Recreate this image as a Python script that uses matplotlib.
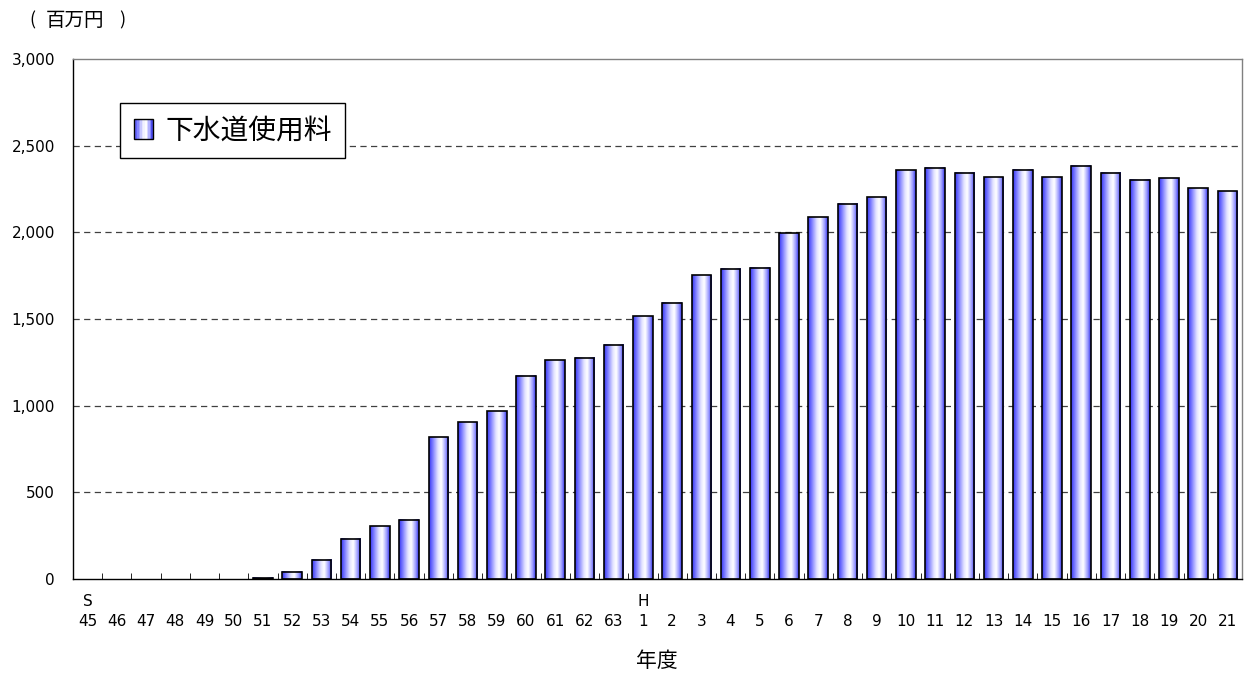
"""Sewer usage fee revenue by fiscal year, bar chart with gradient bars."""

import matplotlib
matplotlib.use("Agg")
import matplotlib.pyplot as plt
import numpy as np
from matplotlib.colors import LinearSegmentedColormap
from matplotlib.legend_handler import HandlerBase
from matplotlib.patches import Patch, Rectangle

plt.rcParams["font.family"] = ["DejaVu Sans", "Noto Sans CJK JP"]
JP = ["Noto Sans CJK JP", "DejaVu Sans"]

# fiscal years: Showa 45-63, Heisei 1-21
years = [str(y) for y in range(45, 64)] + [str(y) for y in range(1, 22)]
era_marks = {0: "S", 19: "H"}
# million yen
fees = [0, 0, 0, 0, 0, 0, 8, 43, 110, 231, 303, 343, 819, 903, 969, 1174,
        1261, 1275, 1350, 1517, 1595, 1751, 1791, 1797, 1995, 2086, 2166,
        2201, 2357, 2374, 2345, 2319, 2360, 2319, 2383, 2345, 2302, 2311,
        2253, 2238]
series_name = "下水道使用料"
unit_label = "百万円"
y_ticks = [0, 500, 1000, 1500, 2000, 2500, 3000]


def _bar_cmap() -> LinearSegmentedColormap:
    return LinearSegmentedColormap.from_list(
        "bar_grad",
        [(0.0, "#3535f0"), (0.15, "#7070ff"), (0.45, "#e4e4ff"),
         (0.62, "#ffffff"), (0.85, "#9a9aff"), (1.0, "#3030e8")],
    )


class GradientHandler(HandlerBase):
    def create_artists(self, legend, orig_handle, xdescent, ydescent, width,
                       height, fontsize, trans):
        side = min(width, height)
        x0 = xdescent + (width - side) / 2
        y0 = -ydescent
        cmap = _bar_cmap()
        n = 12
        arts = []
        for i in range(n):
            arts.append(Rectangle((x0 + side * i / n, y0), side / n, side,
                                  facecolor=cmap((i + 0.5) / n), edgecolor="none",
                                  transform=trans))
        arts.append(Rectangle((x0, y0), side, side, facecolor="none",
                              edgecolor="black", lw=1.0, transform=trans))
        return arts


def main() -> None:
    fig = plt.figure(figsize=(12.44, 6.73), dpi=100)
    ax = fig.add_axes([73 / 1244, 1 - 579 / 673, 1169 / 1244, 520 / 673])

    x = np.arange(len(years))
    vals = np.array(fees, dtype=float)
    width = 0.67
    cmap = _bar_cmap()
    grad = np.linspace(0, 1, 64).reshape(1, -1)

    for yv in y_ticks[1:-1]:
        ax.axhline(yv, color="#404040", lw=0.9, ls=(0, (5, 3.5)), zorder=1)

    shown = vals > 0
    for xi, v in zip(x[shown], vals[shown]):
        ax.imshow(grad, cmap=cmap, aspect="auto", interpolation="bilinear",
                  extent=(xi - width / 2, xi + width / 2, 0, v), zorder=2)
    ax.bar(x[shown], vals[shown], width=width, facecolor="none",
           edgecolor="black", linewidth=1.2, zorder=3)

    ax.set_xlim(-0.5, len(years) - 0.5)
    ax.set_ylim(0, 3000)

    ax.set_yticks(y_ticks)
    ax.set_yticklabels([f"{v:,}" for v in y_ticks], fontsize=11)
    ax.tick_params(axis="y", length=0, pad=13)

    ax.set_xticks(x)
    ax.set_xticklabels(years, fontsize=11)
    ax.tick_params(axis="x", which="major", length=0, pad=25)
    ax.set_xticks(np.arange(-0.5, len(years)), minor=True)
    ax.tick_params(axis="x", which="minor", direction="in", length=4,
                   color="black")
    for idx, mark in era_marks.items():
        ax.text(idx, (579 - 602) / 520, mark, transform=ax.get_xaxis_transform(),
                ha="center", va="center", fontsize=11)

    for side in ("left", "bottom"):
        ax.spines[side].set_color("black")
        ax.spines[side].set_linewidth(1.0)
    for side in ("top", "right"):
        ax.spines[side].set_color("#808080")
        ax.spines[side].set_linewidth(1.0)

    fig.text(657 / 1244, 1 - 661 / 673, "年度", family=JP, fontsize=15,
             ha="center", va="center")
    # unit label, spaced out like the original
    fig.text(29 / 1244, 1 - 20 / 673, "(", family=JP, fontsize=13,
             ha="left", va="center")
    fig.text(75 / 1244, 1 - 20 / 673, unit_label, family=JP, fontsize=14,
             ha="center", va="center")
    fig.text(125 / 1244, 1 - 20 / 673, ")", family=JP, fontsize=13,
             ha="right", va="center")

    handle = Patch(label=series_name)
    leg = ax.legend(handles=[handle], handler_map={Patch: GradientHandler()},
                    loc="upper left", bbox_to_anchor=(0.040, 0.915),
                    borderaxespad=0, fancybox=False, framealpha=1,
                    edgecolor="black", prop={"family": JP, "size": 20},
                    handlelength=0.8, handletextpad=0.4, borderpad=0.45)
    leg.get_frame().set_linewidth(1.0)
    leg.set_zorder(5)

    fig.savefig("out.png", dpi=100)
    plt.close(fig)


if __name__ == "__main__":
    main()
